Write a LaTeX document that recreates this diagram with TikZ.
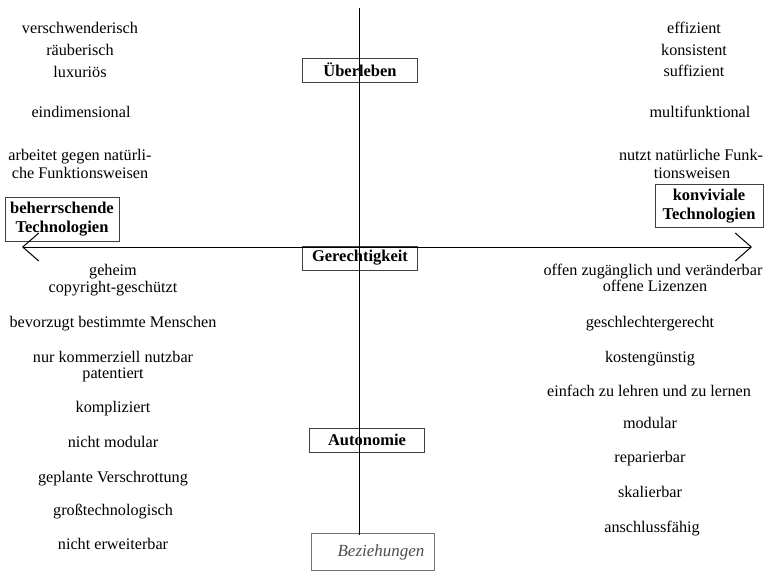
\documentclass[tikz,border=0pt]{standalone}
\usepackage{fontspec}
\setmainfont{Liberation Serif}
\usetikzlibrary{arrows.meta}

\begin{document}
\begin{tikzpicture}
            [x=1pt, y=-1pt, semithick,
             eig/.style={inner sep=0pt, text height=10.5pt, text depth=3pt, yshift=-2pt, font=\fontsize{16.2}{18}\selectfont},
             achse/.style={shape=rectangle, draw=black!75, thin, minimum width=115pt, minimum height=24pt, inner sep=0pt, font=\bfseries\fontsize{16.5}{18}\selectfont},
             pol/.style={shape=rectangle, draw=black!75, thin, align=center, inner sep=1pt, font=\bfseries\fontsize{16.5}{19}\selectfont},
             barb/.tip={Straight Barb[length=16pt, width=28pt, line width=1pt]}]
            \useasboundingbox (0, 0) rectangle (773, 572);

            \coordinate (oben) at (359, 8);
            \coordinate (unten) at (359, 535);
            \coordinate (links) at (22, 247);
            \coordinate (rechts) at (752, 247);

            \node[achse] (ueberleben) at (360, 70) {Überleben};
            \node[achse] (gerechtigkeit) at (360, 258) {Gerechtigkeit};
            \node[achse] (autonomie) at (367, 440) {Autonomie};
            \node[shape=rectangle, draw=black!55, thin, minimum width=123pt, minimum height=37pt] (beziehungen) at (373, 552) {};
            \node[inner sep=0pt, text=black!70, font=\itshape\fontsize{17}{18}\selectfont] (bez) at (381, 552) {Beziehungen};

            \node[pol, minimum width=114pt, minimum height=44pt] (beherrschend) at (62, 219) {beherrschende\\Technologien};
            \node[pol, minimum width=108pt, minimum height=43pt] (konvivial) at (709, 206) {konviviale\\Technologien};

            \node[eig] (l1) at (80, 28) {verschwenderisch};
            \node[eig] (l2) at (80, 50) {räuberisch};
            \node[eig] (l3) at (80, 72) {luxuriös};
            \node[eig] (l4) at (81, 112) {eindimensional};
            \node[eig] (l5) at (80, 155) {arbeitet gegen natürli-};
            \node[eig] (l6) at (80, 173) {che Funktionsweisen};

            \node[eig] (r1) at (694, 28) {effizient};
            \node[eig] (r2) at (694, 50) {konsistent};
            \node[eig] (r3) at (694, 71) {suffizient};
            \node[eig] (r4) at (700, 112) {multifunktional};
            \node[eig] (r5) at (691, 155) {nutzt natürliche Funk-};
            \node[eig] (r6) at (692, 173) {tionsweisen};

            \node[eig] (l7) at (113, 270) {geheim};
            \node[eig] (l8) at (113, 287) {copyright-geschützt};
            \node[eig] (l9) at (113, 322) {bevorzugt bestimmte Menschen};
            \node[eig] (l10) at (113, 357) {nur kommerziell nutzbar};
            \node[eig] (l11) at (113, 373) {patentiert};
            \node[eig] (l12) at (113, 407) {kompliziert};
            \node[eig] (l13) at (113, 442) {nicht modular};
            \node[eig] (l14) at (113, 477) {geplante Verschrottung};
            \node[eig] (l15) at (113, 510) {großtechnologisch};
            \node[eig] (l16) at (113, 544) {nicht erweiterbar};

            \node[eig] (r7) at (653, 270) {offen zugänglich und veränderbar};
            \node[eig] (r8) at (655, 286) {offene Lizenzen};
            \node[eig] (r9) at (650, 322) {geschlechtergerecht};
            \node[eig] (r10) at (650, 357) {kostengünstig};
            \node[eig] (r11) at (649, 391) {einfach zu lehren und zu lernen};
            \node[eig] (r12) at (650, 423) {modular};
            \node[eig] (r13) at (650, 457) {reparierbar};
            \node[eig] (r14) at (650, 492) {skalierbar};
            \node[eig] (r15) at (652, 527) {anschlussfähig};

            \draw [line width=1pt] (oben) -- (unten);
            \draw [line width=1pt, {barb}-{barb}] (links) -- (rechts);
        \end{tikzpicture}
\end{document}
